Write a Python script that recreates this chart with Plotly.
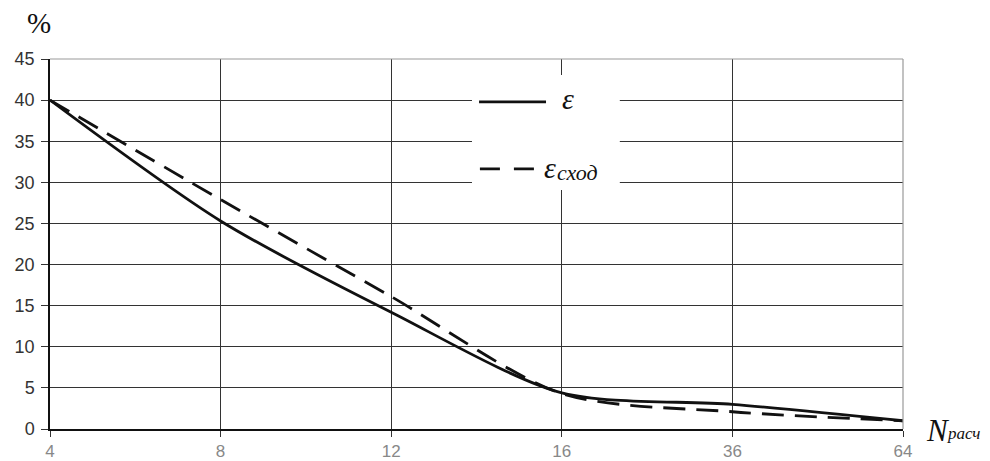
import plotly.graph_objects as go

# Data
n_calc = ["4", "8", "12", "16", "36", "64"]
eps = [40.0, 25.3, 14.2, 4.4, 3.0, 1.0]
eps_conv = [40.0, 27.9, 16.1, 4.3, 2.1, 1.0]
y_ticks = [0, 5, 10, 15, 20, 25, 30, 35, 40, 45]

fig = go.Figure()
fig.add_trace(go.Scatter(x=n_calc, y=eps, mode="lines", line=dict(color="#111", width=2.8, shape="spline", smoothing=0.8),
                         showlegend=False))
fig.add_trace(go.Scatter(x=n_calc, y=eps_conv, mode="lines",
                         line=dict(color="#111", width=2.8, dash="22px,11px", shape="spline", smoothing=0.8),
                         showlegend=False))

fig.update_xaxes(type="category", range=[0, 5], showgrid=True, gridcolor="#333", gridwidth=1, automargin=False,
                 showline=True, linecolor="#111", linewidth=1.5, ticks="outside", ticklen=6, tickcolor="#333",
                 ticklabelstandoff=0,
                 tickfont=dict(family="Liberation Sans, Arial", size=17, color="#888"), zeroline=False)
fig.update_yaxes(range=[0, 45], tickvals=y_ticks, showgrid=True, gridcolor="#333", gridwidth=1, automargin=False,
                 showline=True, linecolor="#111", linewidth=1.5, ticks="outside", ticklen=7, tickcolor="#333",
                 ticklabelstandoff=3,
                 tickfont=dict(family="Liberation Sans, Arial", size=18, color="#333"), zeroline=False)

# legend box (manual)
shapes = [
    dict(type="rect", xref="paper", yref="paper", x0=0.4947, x1=0.668, y0=0.646, y1=0.957,
         fillcolor="white", line=dict(width=0), layer="above"),
    dict(type="line", xref="paper", yref="paper", x0=0.503, x1=0.5815, y0=0.884, y1=0.884,
         line=dict(color="#111", width=2.8), layer="above"),
    dict(type="line", xref="paper", yref="paper", x0=0.504, x1=0.570, y0=0.703, y1=0.703,
         line=dict(color="#111", width=2.8, dash="20px,14px"), layer="above"),
    dict(type="line", xref="paper", yref="paper", x0=0, x1=1, y0=1, y1=1,
         line=dict(color="#999", width=1.2), layer="above"),
    dict(type="line", xref="paper", yref="paper", x0=1, x1=1, y0=0, y1=1,
         line=dict(color="#999", width=1.2), layer="above"),
]
fig.update_layout(shapes=shapes)

serif = "Liberation Serif, Times New Roman, serif"
anns = [
    dict(xref="paper", yref="paper", x=0.607, y=0.892, text="<i>ε</i>", showarrow=False,
         font=dict(family=serif, size=30, color="#111"), xanchor="center", yanchor="middle"),
    dict(xref="paper", yref="paper", x=0.5862, y=0.708, text="<i>ε</i>", showarrow=False,
         font=dict(family=serif, size=30, color="#111"), xanchor="center", yanchor="middle"),
    dict(xref="paper", yref="paper", x=0.618, y=0.692, text="<i>сход</i>", showarrow=False,
         font=dict(family=serif, size=22, color="#111"), xanchor="center", yanchor="middle"),
    dict(xref="paper", yref="paper", x=-0.0129, y=1.097, text="%", showarrow=False,
         font=dict(family=serif, size=29, color="#111"), xanchor="center", yanchor="middle"),
    dict(xref="paper", yref="paper", x=1.0245, y=-0.0054, text="<i>N</i>", showarrow=False,
         font=dict(family=serif, size=31, color="#111"), xanchor="left", yanchor="middle"),
    dict(xref="paper", yref="paper", x=1.0712, y=-0.0135, text="<i>расч</i>", showarrow=False,
         font=dict(family=serif, size=17, color="#111"), xanchor="center", yanchor="middle"),
]
fig.update_layout(annotations=anns)

# page body has an 8px margin, so the figure is offset by (8, 8)
fig.update_layout(width=990, height=461, margin=dict(l=42, r=95, t=51, b=40, autoexpand=False),
                  paper_bgcolor="white", plot_bgcolor="white", showlegend=False)

fig.write_html("out.html")
